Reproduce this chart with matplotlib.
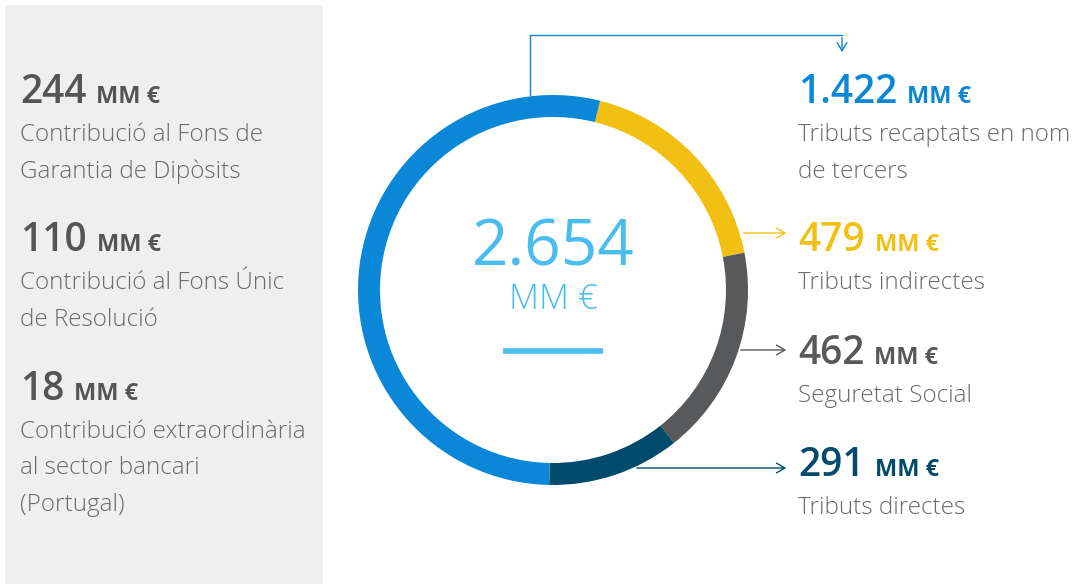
import matplotlib.pyplot as plt
from matplotlib.patches import Rectangle

plt.rcParams['font.family'] = ['Open Sans', 'DejaVu Sans']

# dades
total = '2.654'
seg_names = ['Tributs indirectes', 'Seguretat Social', 'Tributs directes', 'Tributs recaptats en nom\nde tercers']
seg_values = [479, 462, 291, 1422]
seg_labels = ['479', '462', '291', '1.422']
seg_colors = ['#f2c013', '#58595b', '#004b6b', '#0b87d8']

left_values = ['244', '110', '18']
left_texts = ['Contribució al Fons de\nGarantia de Dipòsits',
              'Contribució al Fons Únic\nde Resolució',
              'Contribució extraordinària\nal sector bancari\n(Portugal)']

H = 584
fig = plt.figure(figsize=(10.88, 5.84), dpi=100)
ax = fig.add_axes([0, 0, 1, 1])

# panell gris
ax.add_patch(Rectangle((5, 0), 318, H - 5, color='#efefef', lw=0))

# donut
cx, cy, R = 553, H - 290, 195
ax.pie(seg_values, colors=seg_colors, startangle=76, counterclock=False,
       radius=R, center=(cx, cy), wedgeprops=dict(width=22, linewidth=0))
ax.set_xlim(0, 1088)
ax.set_ylim(0, H)
ax.set_aspect('equal')
ax.axis('off')

# centre
light_blue = '#48bdee'
ax.text(cx, H - 248, total, color=light_blue, fontsize=46, ha='center', va='center')
ax.text(cx, H - 300, 'MM €', color=light_blue, fontsize=25, fontweight='light', ha='center', va='center')
ax.plot([503, 603], [H - 351, H - 351], color=light_blue, lw=4, solid_capstyle='butt')

desc_col = '#6b6b6b'


def bloc(x, y_num, num, desc, col):
    t = ax.text(x, H - y_num, num, color=col, fontsize=28, fontweight='semibold', va='baseline')
    fig.canvas.draw()
    bb = t.get_window_extent()
    ax.text(bb.x1 + 10, H - y_num, 'MM €', color=col, fontsize=17, fontweight='bold', va='baseline')
    for i, line in enumerate(desc.split('\n')):
        ax.text(x, H - (y_num + 38 + i * 36.5), line, color=desc_col, fontsize=17.5,
                fontweight='light', va='baseline')


# esquerra
left_y = [103, 251, 400]
for v, d, y in zip(left_values, left_texts, left_y):
    bloc(20, y, v, d, '#555555')

# dreta
right_y = [103, 251, 364, 476]
right_order = [3, 0, 1, 2]
for k, y in zip(right_order, right_y):
    bloc(798, y, seg_labels[k], seg_names[k], seg_colors[k])

# fletxes
ap = dict(arrowstyle='->,head_length=0.6,head_width=0.35', lw=1)
ax.plot([530, 530, 842], [H - 95, H - 35, H - 35], color='#0b87d8', lw=1)
ax.annotate('', xy=(842, H - 55), xytext=(842, H - 35), arrowprops=dict(ap, color='#0b87d8'))
ax.annotate('', xy=(789, H - 233), xytext=(741, H - 233), arrowprops=dict(ap, color='#f2c013'))
ax.annotate('', xy=(789, H - 350), xytext=(738, H - 350), arrowprops=dict(ap, color='#58595b'))
ax.annotate('', xy=(789, H - 468), xytext=(634, H - 468), arrowprops=dict(ap, color='#004b6b'))

fig.savefig('out.png', dpi=100)
